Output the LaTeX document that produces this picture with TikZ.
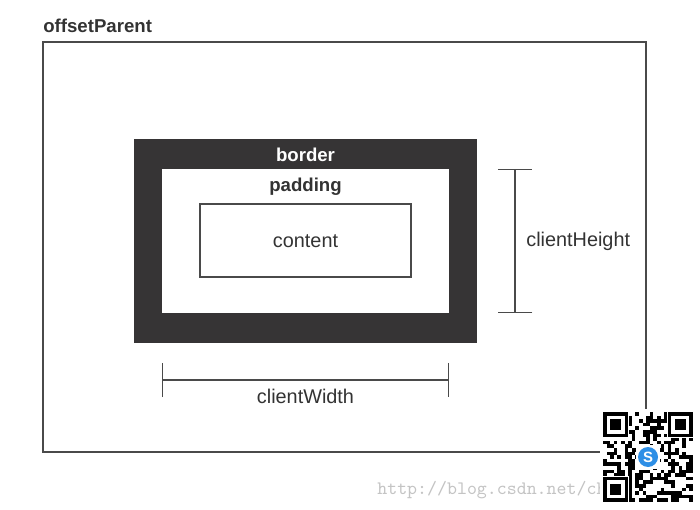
\documentclass[tikz,border=0pt]{standalone}
\usepackage{fontspec}
\setmainfont{Liberation Sans}
\usetikzlibrary{arrows.meta,calc,positioning}

\definecolor{boxdark}{HTML}{363435}
\definecolor{linegray}{HTML}{4A4A4A}
\definecolor{textgray}{HTML}{333333}
\definecolor{wmgray}{HTML}{C4C4C4}
\definecolor{logoblue}{HTML}{2E8FE6}

\begin{document}
\begin{tikzpicture}[x=0.02cm,y=-0.02cm,
    plain/.style={font=\fontsize{11.3}{13}\selectfont,text=textgray,inner sep=0pt},
    heading/.style={font=\fontsize{10.6}{13}\selectfont\bfseries,inner sep=0pt},
    frame/.style={draw=linegray,line width=0.8pt},
    measure/.style={draw=linegray,line width=0.8pt,{Bar[width=0.69cm]}-{Bar[width=0.69cm]}}]

  \useasboundingbox[fill=white] (0,0) rectangle (700,510);

  % offsetParent
  \node[heading,text=textgray,anchor=south west] (parent) at (43,33) {offsetParent};
  \draw[frame] (43,42) rectangle (646,452);

  % border, padding, content
  \fill[boxdark] (134,139) rectangle (477,343);
  \fill[white] (162,169) rectangle (449,313);
  \draw[draw=linegray,line width=0.6pt] (200,204) rectangle (411,277);
  \node[heading,text=white] (border) at (305.5,155) {border};
  \node[heading,text=textgray] (padding) at (305.5,187) {padding};
  \node[plain] (content) at (305.5,241) {content};

  % clientHeight
  \coordinate (htop) at (515,169);
  \coordinate (hbot) at (515,313);
  \draw[measure] (htop) -- (hbot);
  \node[plain,anchor=west] (height) at (526,241) {clientHeight};

  % clientWidth
  \coordinate (wleft) at (162,380);
  \coordinate (wright) at (449,380);
  \draw[measure] (wleft) -- (wright);
  \node[plain,below=5pt of $(wleft)!0.5!(wright)$] (width) {clientWidth};

  % watermark
  \node[font=\ttfamily\fontsize{10.8}{12}\selectfont,text=wmgray,anchor=west,inner sep=0pt]
    (mark) at (377,490) {http://blog.csdn.net/ch};

  % qr code
  \fill[white] (600,409) rectangle (695,505);
  \pgfmathsetseed{4711}
  \foreach \i in {0,...,24}{
    \foreach \j in {0,...,24}{
      \pgfmathtruncatemacro{\on}{rnd<0.5}
      \ifnum\on=1
        \fill[black] ({603+\i*3.6},{412+\j*3.6}) rectangle ++(3.6,3.6);
      \fi
    }
  }
  \foreach \fx/\fy in {603/412,667.8/412,603/476.8}{
    \fill[white] ({\fx-1},{\fy-1}) rectangle ++(27.2,27.2);
    \fill[black] (\fx,\fy) rectangle ++(25.2,25.2);
    \fill[white] ({\fx+3.6},{\fy+3.6}) rectangle ++(18,18);
    \fill[black] ({\fx+7.2},{\fy+7.2}) rectangle ++(10.8,10.8);
  }
  \fill[white] (636,445) rectangle (660,469);
  \fill[logoblue] (648,457) circle (10);
  \node[font=\fontsize{8.5}{9}\selectfont\bfseries,text=white,inner sep=0pt] (logo) at (648,457) {S};
\end{tikzpicture}
\end{document}
